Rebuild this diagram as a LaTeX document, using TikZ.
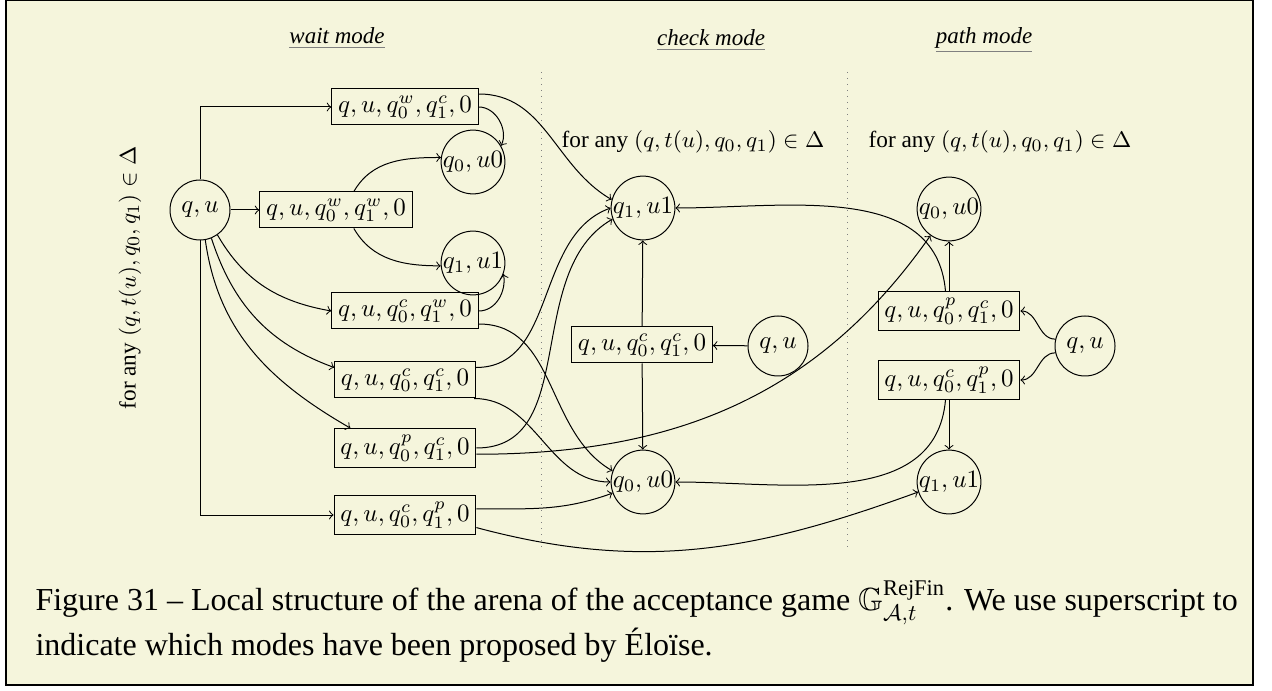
\documentclass[tikz,border=0pt]{standalone}
\usepackage{amssymb}
\usepackage{amsmath}
\usepackage{fontspec}
\setmainfont{Liberation Serif}
\usepackage{tikz}
\definecolor{bgbeige}{RGB}{245,245,220}
\tikzset{
  state/.style={circle, draw, inner sep=0pt, minimum size=24pt},
  conf/.style={rectangle, draw, inner sep=2.5pt, minimum height=14.4pt},
  modetitle/.style={font=\fontsize{9.2}{11}\selectfont\itshape},
  anylabel/.style={font=\fontsize{9.3}{11}\selectfont},
}
\newcommand\modename[1]{{\color{gray}\underline{\textcolor{black}{#1}}}}

\begin{document}
\begin{tikzpicture}[x=0.4pt, y=0.4pt]

\newcommand\BACK{bgbeige}
\newcommand\SEP{gray}

\useasboundingbox (0,0) rectangle (1272,-691);
\draw[fill=\BACK, line width=0.8pt] (6,0) rectangle (1253,-685);

%% titles and separators
\node[modetitle] (waittitle) at (337,-38) {\modename{wait mode}};
\node[modetitle] (checktitle) at (711,-40) {\modename{check mode}};
\node[modetitle] (pathtitle) at (984,-40) {\modename{path mode}};

\draw[dotted, color=\SEP] (541,-72) -- (541,-548);
\draw[dotted, color=\SEP] (847,-72) -- (847,-548);

%% wait mode
\node[anylabel, rotate=90] (waitany) at (130,-278) {for any $(q,t(u),q_0,q_1)\in\Delta$};
\node[state] (wqu) at (200,-210) {$q,u$};
\node[conf] (wwc) at (405,-107) {$q,u,q_0^w,q_1^c,0$};
\node[conf] (www) at (336,-210) {$q,u,q_0^w,q_1^w,0$};
\node[conf] (wcw) at (405,-311) {$q,u,q_0^c,q_1^w,0$};
\node[conf] (wcc) at (405,-380) {$q,u,q_0^c,q_1^c,0$};
\node[conf] (wpc) at (405,-448) {$q,u,q_0^p,q_1^c,0$};
\node[conf] (wcp) at (405,-515) {$q,u,q_0^c,q_1^p,0$};
\node[state] (wq0) at (473,-162) {$q_0,u0$};
\node[state] (wq1) at (473,-263) {$q_1,u1$};

\draw[->] (wqu.north) |- (wwc.west);
\draw[->] (wqu) -- (www);
\draw[->] (wqu.-55) to[out=-60,in=170] (wcw.west);
\draw[->] (wqu.-68) to[out=-72,in=160] (wcc.170);
\draw[->] (wqu.-80) to[out=-82,in=150] (wpc.160);
\draw[->] (wqu.south) |- (wcp.west);

\draw[->] (wwc.east) to[out=0,in=65] (wq0.30);
\draw[->] (www.46) to[out=60,in=180] (wq0.172);
\draw[->] (www.-46) to[out=-60,in=180] (wq1.185);
\draw[->] (wcw.east) to[out=0,in=-80] (wq1.-20);

%% check mode
\node[anylabel] (checkany) at (693,-142) {for any $(q,t(u),q_0,q_1)\in\Delta$};
\node[state] (cq1) at (643,-208) {$q_1,u1$};
\node[conf] (ccc) at (642,-345) {$q,u,q_0^c,q_1^c,0$};
\node[state] (cqu) at (778,-346) {$q,u$};
\node[state] (cq0) at (643,-482) {$q_0,u0$};

\draw[->] (cqu) -- (ccc);
\draw[->] (ccc) -- (cq1);
\draw[->] (ccc) -- (cq0);

%% path mode
\node[anylabel] (pathany) at (1000,-142) {for any $(q,t(u),q_0,q_1)\in\Delta$};
\node[state] (pq0) at (949,-209) {$q_0,u0$};
\node[conf] (ppc) at (949,-311) {$q,u,q_0^p,q_1^c,0$};
\node[conf] (pcp) at (949,-380) {$q,u,q_0^c,q_1^p,0$};
\node[state] (pq1) at (949,-482) {$q_1,u1$};
\node[state] (pqu) at (1085,-346) {$q,u$};

\draw[->] (pqu.167) to[out=180,in=0] (ppc.east);
\draw[->] (pqu.193) to[out=180,in=0] (pcp.east);
\draw[->] (ppc) -- (pq0);
\draw[->] (pcp) -- (pq1);

%% between the modes
\draw[->] (wwc.10) to[out=0,in=150] (cq1.165);
\draw[->] (wcw.-10) to[out=0,in=150] (cq0.160);
\draw[->] (wcc.10) to[out=0,in=200] (cq1.180);
\draw[->] (wcc.-15) to[out=0,in=180] (cq0.west);
\draw[->] (wpc.east) to[out=0,in=210] (cq1.200);
\draw[->] (wpc.-5) to[out=0,in=235] (pq0.235);
\draw[->] (wcp.5) to[out=0,in=200] (cq0.200);
\draw[->] (wcp.-10) to[out=-15,in=200] (pq1.198);
\draw[->] (ppc.100) to[out=95,in=0] (cq1.east);
\draw[->] (pcp.-100) to[out=-95,in=0] (cq0.east);

%% caption
\node[anchor=north west, align=left, inner sep=0pt,
  font=\fontsize{12.8}{18}\selectfont] (caption) at (35,-580)
{Figure 31 -- Local structure of the arena of the acceptance game $\mathbb{G}^{\text{RejFin}}_{\mathcal{A},t}$. We use superscript to\\
indicate which modes have been proposed by Éloïse.};
\end{tikzpicture}
\end{document}
